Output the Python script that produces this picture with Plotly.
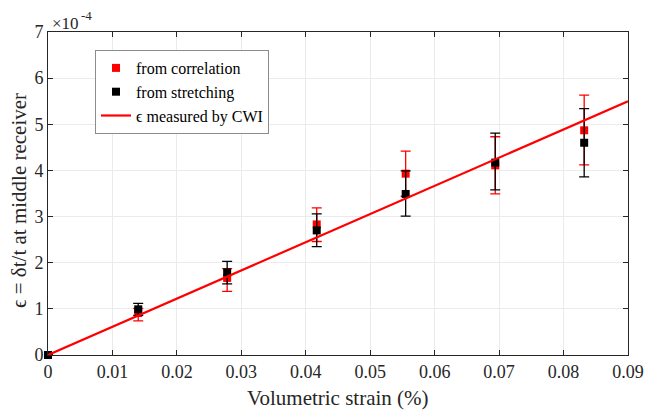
import plotly.graph_objects as go

strain = [0, 0.0140, 0.0278, 0.0417, 0.0555, 0.0694, 0.0832]
corr = [0, 0.91, 1.67, 2.83, 3.93, 4.11, 4.87]
corr_hi = [0, 1.01, 1.87, 3.19, 4.42, 4.73, 5.63]
corr_lo = [0, 0.74, 1.38, 2.46, 3.44, 3.49, 4.12]
stretch = [0, 0.99, 1.79, 2.70, 3.49, 4.17, 4.60]
stretch_hi = [0, 1.12, 2.03, 3.06, 3.99, 4.81, 5.34]
stretch_lo = [0, 0.86, 1.54, 2.35, 3.01, 3.58, 3.86]
cwi_x = [0, 0.09]
cwi_y = [0, 5.5]
x_ticks = [0, 0.01, 0.02, 0.03, 0.04, 0.05, 0.06, 0.07, 0.08, 0.09]
x_labels = ["0", "0.01", "0.02", "0.03", "0.04", "0.05", "0.06", "0.07", "0.08", "0.09"]
y_ticks = [0, 1, 2, 3, 4, 5, 6, 7]

FONT = "Liberation Serif"
AX = "#262626"
L, R, T, B = 48, 18, 32, 57
W, H = 646, 412
PW, PH = W - L - R, H - T - B


def px_x(p):
    return (p - L) / PW


def px_y(p):
    return (H - B - p) / PH


fig = go.Figure()
fig.add_trace(go.Scatter(
    x=strain, y=corr, mode="markers", name="from correlation",
    marker=dict(symbol="square", size=8, color="#ff0000"),
    error_y=dict(type="data", symmetric=False,
                 array=[h - v for h, v in zip(corr_hi, corr)],
                 arrayminus=[v - l for v, l in zip(corr, corr_lo)],
                 color="#ff0000", thickness=1.3, width=5),
    cliponaxis=False,
))
fig.add_trace(go.Scatter(
    x=strain, y=stretch, mode="markers", name="from stretching",
    marker=dict(symbol="square", size=8, color="#000000"),
    error_y=dict(type="data", symmetric=False,
                 array=[h - v for h, v in zip(stretch_hi, stretch)],
                 arrayminus=[v - l for v, l in zip(stretch, stretch_lo)],
                 color="#000000", thickness=1.3, width=5),
    cliponaxis=False,
))
fig.add_trace(go.Scatter(
    x=cwi_x, y=cwi_y, mode="lines", name="\u03f5 measured by CWI",
    line=dict(color="#ff0000", width=2.2),
))

axis_common = dict(
    showline=True, linecolor=AX, linewidth=1, mirror="ticks",
    ticks="inside", ticklen=5, tickcolor=AX, tickwidth=1,
    showgrid=True, gridcolor="#ebebeb", gridwidth=1, zeroline=False,
    tickfont=dict(family=FONT, size=18, color=AX), automargin=False,
)

fig.update_layout(
    width=W, height=H,
    margin=dict(l=L, r=R, t=T, b=B),
    paper_bgcolor="white", plot_bgcolor="white",
    font=dict(family=FONT, color=AX),
    showlegend=True,
    legend=dict(x=px_x(95), y=px_y(50), xanchor="left", yanchor="top",
                bgcolor="white", bordercolor="#8c8c8c", borderwidth=1,
                font=dict(family=FONT, size=16, color="#000000"),
                tracegroupgap=0, itemwidth=30),
    xaxis=dict(range=[0, 0.09], tickvals=x_ticks, ticktext=x_labels, **axis_common),
    yaxis=dict(range=[0, 7], tickvals=y_ticks, **axis_common),
    annotations=[
        dict(text="\u00d710", x=px_x(50), y=px_y(24), xref="paper", yref="paper",
             xanchor="left", yanchor="middle", showarrow=False,
             font=dict(family=FONT, size=17, color=AX)),
        dict(text="-4", x=px_x(79), y=px_y(15), xref="paper", yref="paper",
             xanchor="left", yanchor="middle", showarrow=False,
             font=dict(family=FONT, size=13, color=AX)),
        dict(text="Volumetric strain (%)", x=0.5, y=px_y(398),
             xref="paper", yref="paper", xanchor="center", yanchor="middle",
             showarrow=False, font=dict(family=FONT, size=21, color=AX)),
        dict(text="\u03f5 = \u03b4t/t at middle receiver", x=px_x(19), y=px_y(201),
             xref="paper", yref="paper", xanchor="center", yanchor="middle",
             textangle=-90, showarrow=False, font=dict(family=FONT, size=21, color=AX)),
    ],
)

fig.write_html("out.html", config={"displayModeBar": False},
               post_script="document.body.style.margin='0';document.body.style.overflow='hidden';")
